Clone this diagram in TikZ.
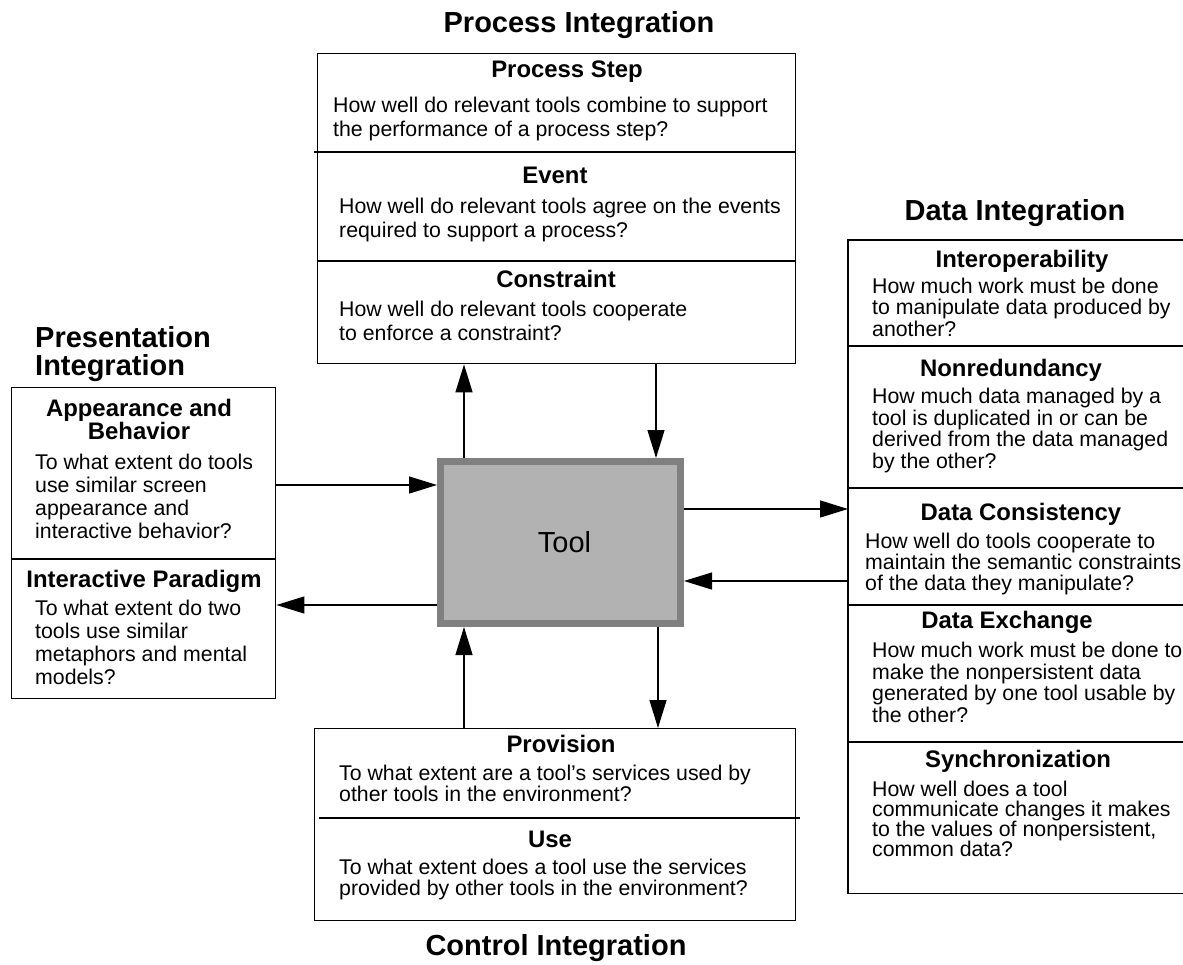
\documentclass[tikz,border=0pt]{standalone}
\usepackage{fontspec}
\setmainfont{Liberation Sans}
\usetikzlibrary{arrows.meta, positioning, calc}

\begin{document}
\begin{tikzpicture}[
    x=1pt, y=-1pt,
    box/.style={rectangle, draw, line width=1.4pt, inner sep=0pt, anchor=north west},
    tool/.style={rectangle, draw=black!50, line width=7pt, fill=black!30, minimum width=240pt, minimum height=162pt, font=\fontsize{29}{32}\selectfont},
    group/.style={font=\bfseries\fontsize{29}{28}\selectfont, inner sep=0pt, anchor=base},
    head/.style={font=\bfseries\fontsize{23.9}{23}\selectfont, inner sep=0pt, anchor=base, align=center},
    body/.style={font=\fontsize{21.3}{24}\selectfont, inner sep=0pt, anchor=base west, align=left},
    side/.style={body, font=\fontsize{21.3}{23}\selectfont},
    data/.style={body, font=\fontsize{21.3}{21.5}\selectfont},
    arr/.style={-{Triangle[length=28pt, width=17pt]}, line width=1.3pt}
]
    \useasboundingbox (0,0) rectangle (1183,964);

    % Boxes around the tool
    \node[tool] (tool) at (560.5,542.5) {\hspace*{8pt}Tool};
    \node[box, minimum width=478pt, minimum height=310pt] (procbox) at (317,53) {};
    \node[box, minimum width=264pt, minimum height=311pt] (presbox) at (11,387) {};
    \node[box, draw=none, minimum width=335pt, minimum height=652pt] (databox) at (848,240) {};
    \node[box, minimum width=481pt, minimum height=192pt] (ctrlbox) at (314,728) {};
    \draw[line width=1.4pt] (databox.north east) -- (databox.north west) -- (databox.south west) -- (databox.south east);

    % Dividers
    \draw[line width=1.4pt] (314,152) -- (795,152);
    \draw[line width=1.4pt] (317,261) -- (795,261);
    \draw[line width=1.4pt] (11,559) -- (275,559);
    \draw[line width=1.4pt] (848,346) -- (1183,346);
    \draw[line width=1.4pt] (848,488) -- (1183,488);
    \draw[line width=1.4pt] (848,605) -- (1183,605);
    \draw[line width=1.4pt] (848,742) -- (1183,742);
    \draw[line width=1.4pt] (319,818) -- (800,818);

    % Group titles (multi-line nodes sit on their last line)
    \node[group] (proctitle) at (579,32) {Process Integration};
    \node[group, anchor=base west, align=left] (prestitle) at (35,375) {Presentation\\Integration};
    \node[group] (datatitle) at (1015,220) {Data Integration};
    \node[group] (ctrltitle) at (556,955) {Control Integration};

    % Process integration
    \node[head] (step) at (567,77) {Process Step};
    \node[body] (steptxt) at (333,136) {How well do relevant tools combine to support\\the performance of a process step?};
    \node[head] (event) at (555,183) {Event};
    \node[body] (eventtxt) at (339,237) {How well do relevant tools agree on the events\\required to support a process?};
    \node[head] (cstr) at (556,287) {Constraint};
    \node[body] (cstrtxt) at (339,340) {How well do relevant tools cooperate\\to enforce a constraint?};

    % Presentation integration
    \node[head] (appear) at (139,439) {Appearance and\\Behavior};
    \node[side] (appeartxt) at (35,538) {To what extent do tools\\use similar screen\\appearance and\\interactive behavior?};
    \node[head] (paradigm) at (144,587) {Interactive Paradigm};
    \node[side] (paradigmtxt) at (35,684) {To what extent do two\\tools use similar\\metaphors and mental\\models?};

    % Data integration
    \node[head] (interop) at (1022,267) {Interoperability};
    \node[data] (interoptxt) at (872,336) {How much work must be done\\to manipulate data produced by\\another?};
    \node[head] (nonred) at (1011,376) {Nonredundancy};
    \node[data] (nonredtxt) at (872,468) {How much data managed by a\\tool is duplicated in or can be\\derived from the data managed\\by the other?};
    \node[head] (consist) at (1021,520) {Data Consistency};
    \node[data, font=\fontsize{21.3}{21}\selectfont] (consisttxt) at (865,590) {How well do tools cooperate to\\maintain the semantic constraints\\of the data they manipulate?};
    \node[head] (exch) at (1007,628) {Data Exchange};
    \node[data] (exchtxt) at (872,722) {How much work must be done to\\make the nonpersistent data\\generated by one tool usable by\\the other?};
    \node[head] (sync) at (1018,767) {Synchronization};
    \node[data, font=\fontsize{21.3}{20}\selectfont] (synctxt) at (872,856) {How well does a tool\\communicate changes it makes\\to the values of nonpersistent,\\common data?};

    % Control integration
    \node[head] (prov) at (561,752) {Provision};
    \node[body, font=\fontsize{21.3}{21}\selectfont] (provtxt) at (339,801) {To what extent are a tool’s services used by\\other tools in the environment?};
    \node[head] (use) at (550,847) {Use};
    \node[body, font=\fontsize{21.3}{21}\selectfont] (usetxt) at (339,895) {To what extent does a tool use the services\\provided by other tools in the environment?};

    % Edges
    \coordinate (xa) at (464,0);
    \coordinate (xb) at (656,0);
    \coordinate (xc) at (658,0);
    \coordinate (ya) at (0,509);
    \coordinate (yb) at (0,581);
    \coordinate (yc) at (0,485);
    \coordinate (yd) at (0,605);
    \draw[arr] (tool.north -| xa) -- (procbox.south -| xa);
    \draw[arr] (procbox.south -| xb) -- (tool.north -| xb);
    \draw[arr] (tool.east |- ya) -- (databox.west |- ya);
    \draw[arr] (databox.west |- yb) -- (tool.east |- yb);
    \draw[arr] (presbox.east |- yc) -- (tool.west |- yc);
    \draw[arr] (tool.west |- yd) -- (presbox.east |- yd);
    \draw[arr] (ctrlbox.north -| xa) -- (tool.south -| xa);
    \draw[arr] (tool.south -| xc) -- (ctrlbox.north -| xc);
\end{tikzpicture}
\end{document}
